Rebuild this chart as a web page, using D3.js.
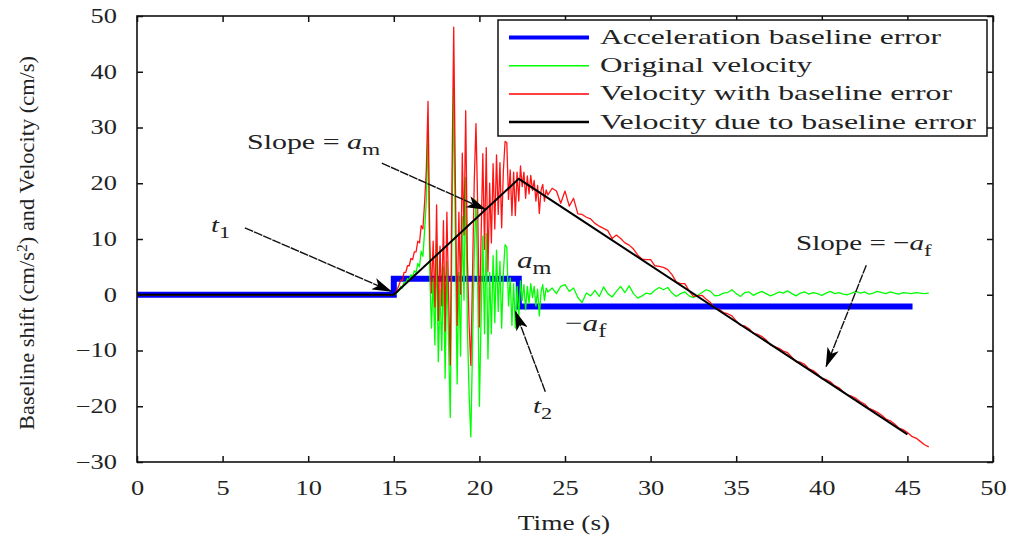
<!DOCTYPE html>
<html>
<head>
<meta charset="utf-8">
<script src="https://cdn.jsdelivr.net/npm/d3@7"></script>
<style>
  html, body { margin: 0; padding: 0; background: #fff; }
  svg { display: block; }
  text { font-family: "Liberation Serif", "DejaVu Serif", serif; fill: #222; }
</style>
</head>
<body>
<svg id="chart" width="1018" height="541"></svg>
<script>
// ---------------- DATA ----------------
const xTicks = [0, 5, 10, 15, 20, 25, 30, 35, 40, 45, 50];
const yTicks = [-30, -20, -10, 0, 10, 20, 30, 40, 50];

// Acceleration baseline error (step function)
const accelTime = [0, 15, 22.3, 45.3];
const accelValue = [0, 2.85, -2.1, -2.1];

// Velocity due to baseline error (piecewise linear)
const baseVelTime = [0, 15, 22.3, 45];
const baseVelValue = [0, 0, 20.8, -25.05];

// sample times for the recorded velocities
const sampleTime = [0].concat(d3.range(15, 24.05, 0.1), d3.range(24.25, 46.3, 0.25));

// Original velocity (cm/s)
const origVel = [0,
  0,0.1,0.4,0.8,1.5,1.2,2.3,2.0,2.9,2.6,
  3.6,3.2,4.3,4.0,5.6,5.0,7.8,6.9,11.5,17,
  29,4,-6,3,-9,9,-12,1,-10,5,
  -15,6,-9,-22,12,37,9,-16,4,-11,
  14,-1,21,-6,-18,-25.5,-9,7,17,2,
  -20,-4,10.5,-7,11,-11.5,4,-7,7,-5,
  8,-3,6,-6,4,9,8.5,-2,3,-5.5,
  2,-6,1.5,-4,2.5,-1,1.8,-2.7,1.5,-1.5,
  2,-0.5,1.5,-2,1,-3.8,0.5,1.8,-1,1.2,
  0.5,
  1.2,0.2,1.5,1.8,0.6,1.2,-0.5,-1.4,0.3,-0.2,
  0.8,-0.3,1.4,0.2,-0.4,0.6,1.5,0.4,1.6,0.2,
  -0.6,-0.2,0.3,0.1,0.8,1.3,0.9,1.3,0.3,-0.3,
  0.2,0.5,-0.2,-0.5,-0.1,0.4,0.9,0.6,-0.2,-0.1,
  0.3,0.4,0.9,0.2,-0.3,0.4,0.5,-0.1,0.3,0.6,
  0.2,-0.2,0.1,0.5,0.3,0.7,0.2,-0.2,0.3,0.5,
  0.1,0.4,0.2,-0.1,0.3,0.6,0.2,0.4,0.1,0.0,
  0.3,0.6,0.3,0.5,0.1,0.3,0.6,0.4,0.2,0.5,
  0.3,0.1,0.4,0.3,0.2,0.4,0.3,0.2,0.3
];

// Velocity with baseline error (cm/s)
const errVel = [0,
  0,0.4,1.0,1.7,2.6,2.6,4.0,4.0,5.2,5.2,
  6.5,6.3,7.7,7.7,9.6,9.3,12.4,11.8,16.6,22.4,
  34.7,10,0.3,9.6,-2.2,16.1,-4.6,8.7,-2,13.3,
  -6.5,14.8,0.1,-12.6,21.7,48,19.3,-5.5,14.8,0.1,
  25.4,10.7,33,6.3,-5.5,-12.7,4.1,20.4,30.7,16,
  -5.8,10.5,25.3,8.1,26.4,4.2,20,9.3,23.5,11.8,
  25.1,14.4,23.7,12,22.2,27.5,27.3,17.1,22.4,14.2,
  22,14.2,22,16.8,23.1,19.4,22,17.3,21.3,18.1,
  21.4,18.7,20.5,16.8,19.6,14.6,18.7,19.8,16.8,18.8,
  17.9,
  19.1,18.6,16.4,18.6,15.9,17.3,14.5,14.4,13.9,13.6,
  12.8,12.3,11.9,11.5,10.1,10.7,10.1,9.3,8.9,8.2,
  7.1,6.4,6.3,6.3,5.2,5.1,4.9,4.5,3.6,2.3,
  2.0,2.0,0.7,-0.3,-0.2,-0.1,-0.8,-1.4,-2.4,-2.6,
  -3.2,-3.4,-3.8,-4.7,-5.5,-5.6,-6.1,-6.9,-7.1,-7.5,
  -8.1,-9.0,-9.3,-9.6,-10.1,-10.4,-11.2,-12.0,-12.1,-12.5,
  -13.3,-13.6,-14.2,-15.1,-15.2,-15.6,-16.3,-16.7,-17.4,-18.0,
  -18.2,-18.6,-19.2,-19.6,-20.4,-20.7,-21.1,-21.6,-22.3,-22.6,
  -23.2,-23.9,-24.2,-24.7,-25.4,-25.7,-26.3,-26.9,-27.3
];

const legendLabels = ["Acceleration baseline error", "Original velocity",
  "Velocity with baseline error", "Velocity due to baseline error"];

// ---------------- CHART ----------------
const svg = d3.select("#chart");
const M = {left: 137, right: 993, top: 16, bottom: 462};
const x = d3.scaleLinear().domain([0, 50]).range([M.left, M.right]);
const y = d3.scaleLinear().domain([-30, 50]).range([M.bottom, M.top]);
const STRETCH = 1.32; // the reference typography is horizontally widened

function widen(sel, factor) {
  sel.each(function () {
    const w = this.getComputedTextLength();
    d3.select(this).attr("textLength", w * (factor || STRETCH)).attr("lengthAdjust", "spacingAndGlyphs");
  });
}

const line = d3.line().x(d => x(d[0])).y(d => y(d[1]));
const stepLine = d3.line().x(d => x(d[0])).y(d => y(d[1])).curve(d3.curveStepAfter);

const accelData = accelTime.map((t, i) => [t, accelValue[i]]);
const baseVelData = baseVelTime.map((t, i) => [t, baseVelValue[i]]);
const origData = sampleTime.map((t, i) => [t, origVel[i]]);
const errData = sampleTime.map((t, i) => [t, errVel[i]]);

const plot = svg.append("g");
plot.append("path").datum(accelData).attr("d", stepLine)
  .attr("fill", "none").attr("stroke", "#0000ff").attr("stroke-width", 6);
plot.append("path").datum(origData).attr("d", line)
  .attr("fill", "none").attr("stroke", "#00ff00").attr("stroke-width", 1.3).attr("stroke-linejoin", "round");
plot.append("path").datum(errData).attr("d", line)
  .attr("fill", "none").attr("stroke", "#ff0000").attr("stroke-width", 1.3).attr("stroke-linejoin", "round")
  .attr("stroke-opacity", 0.92);
plot.append("path").datum(baseVelData).attr("d", line)
  .attr("fill", "none").attr("stroke", "#000").attr("stroke-width", 2);

// axes
const tickLen = 6;
const fontTick = 20;
const gB = svg.append("g").attr("transform", `translate(0,${M.bottom})`)
  .call(d3.axisBottom(x).tickValues(xTicks).tickSizeInner(-tickLen).tickSizeOuter(0).tickPadding(19).tickFormat(d3.format("d")));
const gL = svg.append("g").attr("transform", `translate(${M.left},0)`)
  .call(d3.axisLeft(y).tickValues(yTicks).tickSizeInner(-tickLen).tickSizeOuter(0).tickPadding(20).tickFormat(d3.format("d")));
const gT = svg.append("g").attr("transform", `translate(0,${M.top})`)
  .call(d3.axisTop(x).tickValues(xTicks).tickSizeInner(-tickLen).tickSizeOuter(0).tickFormat(""));
const gR = svg.append("g").attr("transform", `translate(${M.right},0)`)
  .call(d3.axisRight(y).tickValues(yTicks).tickSizeInner(-tickLen).tickSizeOuter(0).tickFormat(""));
[gB, gL, gT, gR].forEach(g => {
  g.select(".domain").remove();
  g.selectAll(".tick line").attr("stroke", "#111").attr("stroke-width", 1.5);
  g.selectAll(".tick text").attr("font-family", "Liberation Serif, serif")
    .attr("font-size", fontTick).attr("fill", "#222");
});
widen(gB.selectAll(".tick text"));
widen(gL.selectAll(".tick text"));
svg.append("rect").attr("x", M.left).attr("y", M.top)
  .attr("width", M.right - M.left).attr("height", M.bottom - M.top)
  .attr("fill", "none").attr("stroke", "#111").attr("stroke-width", 1.6);

// axis titles
const xt = svg.append("text").attr("x", (M.left + M.right) / 2 - 1).attr("y", 530)
  .attr("text-anchor", "middle").attr("font-size", 21).text("Time (s)");
widen(xt, 1.3);
const yl = svg.append("text")
  .attr("transform", `translate(34,${(M.top + M.bottom) / 2 + 4}) rotate(-90)`)
  .attr("text-anchor", "middle").attr("font-size", 20)
  .attr("textLength", 374).attr("lengthAdjust", "spacingAndGlyphs");
yl.append("tspan").text("Baseline shift (cm/s");
yl.append("tspan").attr("dy", -7).attr("font-size", 14).text("2");
yl.append("tspan").attr("dy", 7).text(") and Velocity (cm/s)");

// legend
const lg = svg.append("g");
lg.append("rect").attr("x", 498).attr("y", 20).attr("width", 489).attr("height", 116)
  .attr("fill", "#fff").attr("stroke", "#111").attr("stroke-width", 1.5);
const legStyles = [
  {c: "#0000ff", w: 4}, {c: "#00ff00", w: 1.5}, {c: "#ff0000", w: 1.5}, {c: "#000", w: 2.5}
];
const legLens = [341, 212, 352, 376];
legendLabels.forEach((lab, i) => {
  const yy = 37.5 + i * 28.2;
  lg.append("line").attr("x1", 509).attr("x2", 589).attr("y1", yy).attr("y2", yy)
    .attr("stroke", legStyles[i].c).attr("stroke-width", legStyles[i].w);
  lg.append("text").attr("x", 600).attr("y", yy + 6.5).attr("font-size", 22)
    .attr("textLength", legLens[i]).attr("lengthAdjust", "spacingAndGlyphs").text(lab);
});

// annotations
const defs = svg.append("defs");
defs.append("marker").attr("id", "ah").attr("viewBox", "0 0 20 12")
  .attr("refX", 19).attr("refY", 6).attr("markerWidth", 20).attr("markerHeight", 12)
  .attr("markerUnits", "userSpaceOnUse").attr("orient", "auto")
  .append("path").attr("d", "M0,0 L20,6 L0,12 L5,6 Z").attr("fill", "#000");

function arrow(t0, v0, t1, v1) {
  svg.append("line").attr("x1", x(t0)).attr("y1", y(v0)).attr("x2", x(t1)).attr("y2", y(v1))
    .attr("stroke", "#111").attr("stroke-width", 1.4).attr("stroke-dasharray", "9,1")
    .attr("marker-end", "url(#ah)");
}
arrow(6.3, 12.0, 14.85, 0.6);     // t1
arrow(14.3, 23.6, 20.35, 15.3);   // slope a_m
arrow(23.85, -17.4, 22.1, -3.0);  // t2
arrow(42.6, 5.3, 40.25, -12.9);   // slope -a_f

function label(xp, yp, parts, size, factor) {
  const t = svg.append("text").attr("x", xp).attr("y", yp).attr("font-size", size || 22);
  parts.forEach(p => {
    const s = t.append("tspan").text(p.s);
    if (p.i) s.attr("font-style", "italic");
    if (p.sub) s.attr("dy", 6).attr("font-size", (size || 22) * 0.78);
  });
  widen(t, factor);
  return t;
}
label(247, 149, [{s: "Slope = "}, {s: "a", i: true}, {s: "m", sub: true}], 22, 1.36);
label(211, 232, [{s: "t", i: true}, {s: "1", sub: true}], 22, 1.3);
label(517, 268, [{s: "a", i: true}, {s: "m", sub: true}], 24, 1.3);
label(565, 331, [{s: "−"}, {s: "a", i: true}, {s: "f", sub: true}], 24, 1.3);
label(533, 413, [{s: "t", i: true}, {s: "2", sub: true}], 22, 1.3);
label(796, 250, [{s: "Slope = −"}, {s: "a", i: true}, {s: "f", sub: true}], 22, 1.32);
</script>
</body>
</html>
